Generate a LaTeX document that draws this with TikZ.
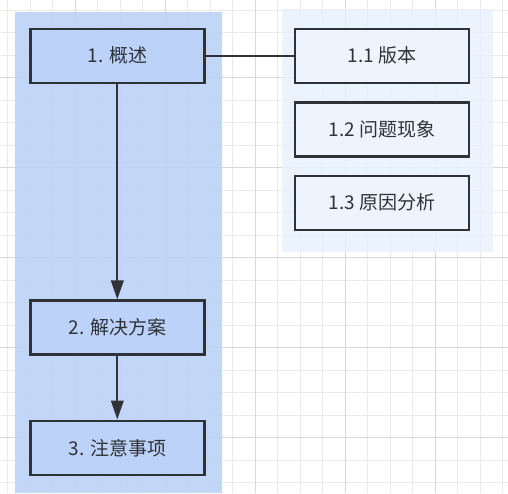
\documentclass[tikz,border=0pt]{standalone}
\usepackage{fontspec}
\setmainfont{Noto Sans CJK SC}
\usetikzlibrary{arrows.meta}
\definecolor{panelblue}{HTML}{BCD2F8}
\definecolor{panellight}{HTML}{E8F1FE}
\definecolor{boxlight}{HTML}{EEF4FE}
\definecolor{edgec}{HTML}{2F3338}
\definecolor{gridminor}{HTML}{EAEAEA}
\definecolor{gridmajor}{HTML}{D8D8D8}
\tikzset{
  box/.style={draw=edgec, line width=2.6pt, minimum width=174pt, minimum height=54pt, inner sep=0pt, font=\fontsize{19}{22}\selectfont, text=edgec},
  bluebox/.style={box, fill=panelblue, fill opacity=0.85, text opacity=1},
  lightbox/.style={box, fill=boxlight},
  conn/.style={draw=edgec, line width=2.3pt},
  arr/.style={conn, -{Triangle[length=19pt,width=12.5pt]}}
}
\begin{document}
\begin{tikzpicture}[x=1pt,y=-1pt]
\useasboundingbox (0,0) rectangle (508,493);
\fill[white] (0,0) rectangle (508,493);
% grid
\foreach \i in {0,...,22} {
  \draw[gridminor, line width=1pt] ({7.8+22.5*\i},0) -- ({7.8+22.5*\i},493);
}
\foreach \i in {0,...,21} {
  \draw[gridminor, line width=1pt] (0,{10.2+22.5*\i}) -- (508,{10.2+22.5*\i});
}
\foreach \i in {0,...,5} {
  \draw[gridmajor, line width=1.1pt] ({75.3+90*\i},0) -- ({75.3+90*\i},493);
  \draw[gridmajor, line width=1.1pt] (0,{77.7+90*\i}) -- (508,{77.7+90*\i});
}
% panels
\fill[panelblue, opacity=0.9] (15,12) rectangle (221.7,493);
\fill[panellight, opacity=0.85] (282,9.3) rectangle (492.7,251.7);
% nodes
\node[bluebox] (n1) at (117.3,55.8) {1. 概述};
\node[bluebox] (n2) at (117.3,327.7) {2. 解决方案};
\node[bluebox] (n3) at (117.3,447.8) {3. 注意事项};
\node[lightbox] (n11) at (381.8,55.8) {1.1 版本};
\node[lightbox] (n12) at (381.8,129.6) {1.2 问题现象};
\node[lightbox] (n13) at (381.8,202.8) {1.3 原因分析};
% connectors
\draw[conn] (n1.east) -- (n11.west);
\draw[arr] (n1.south) -- (n2.north);
\draw[arr] (n2.south) -- (n3.north);
\end{tikzpicture}
\end{document}
